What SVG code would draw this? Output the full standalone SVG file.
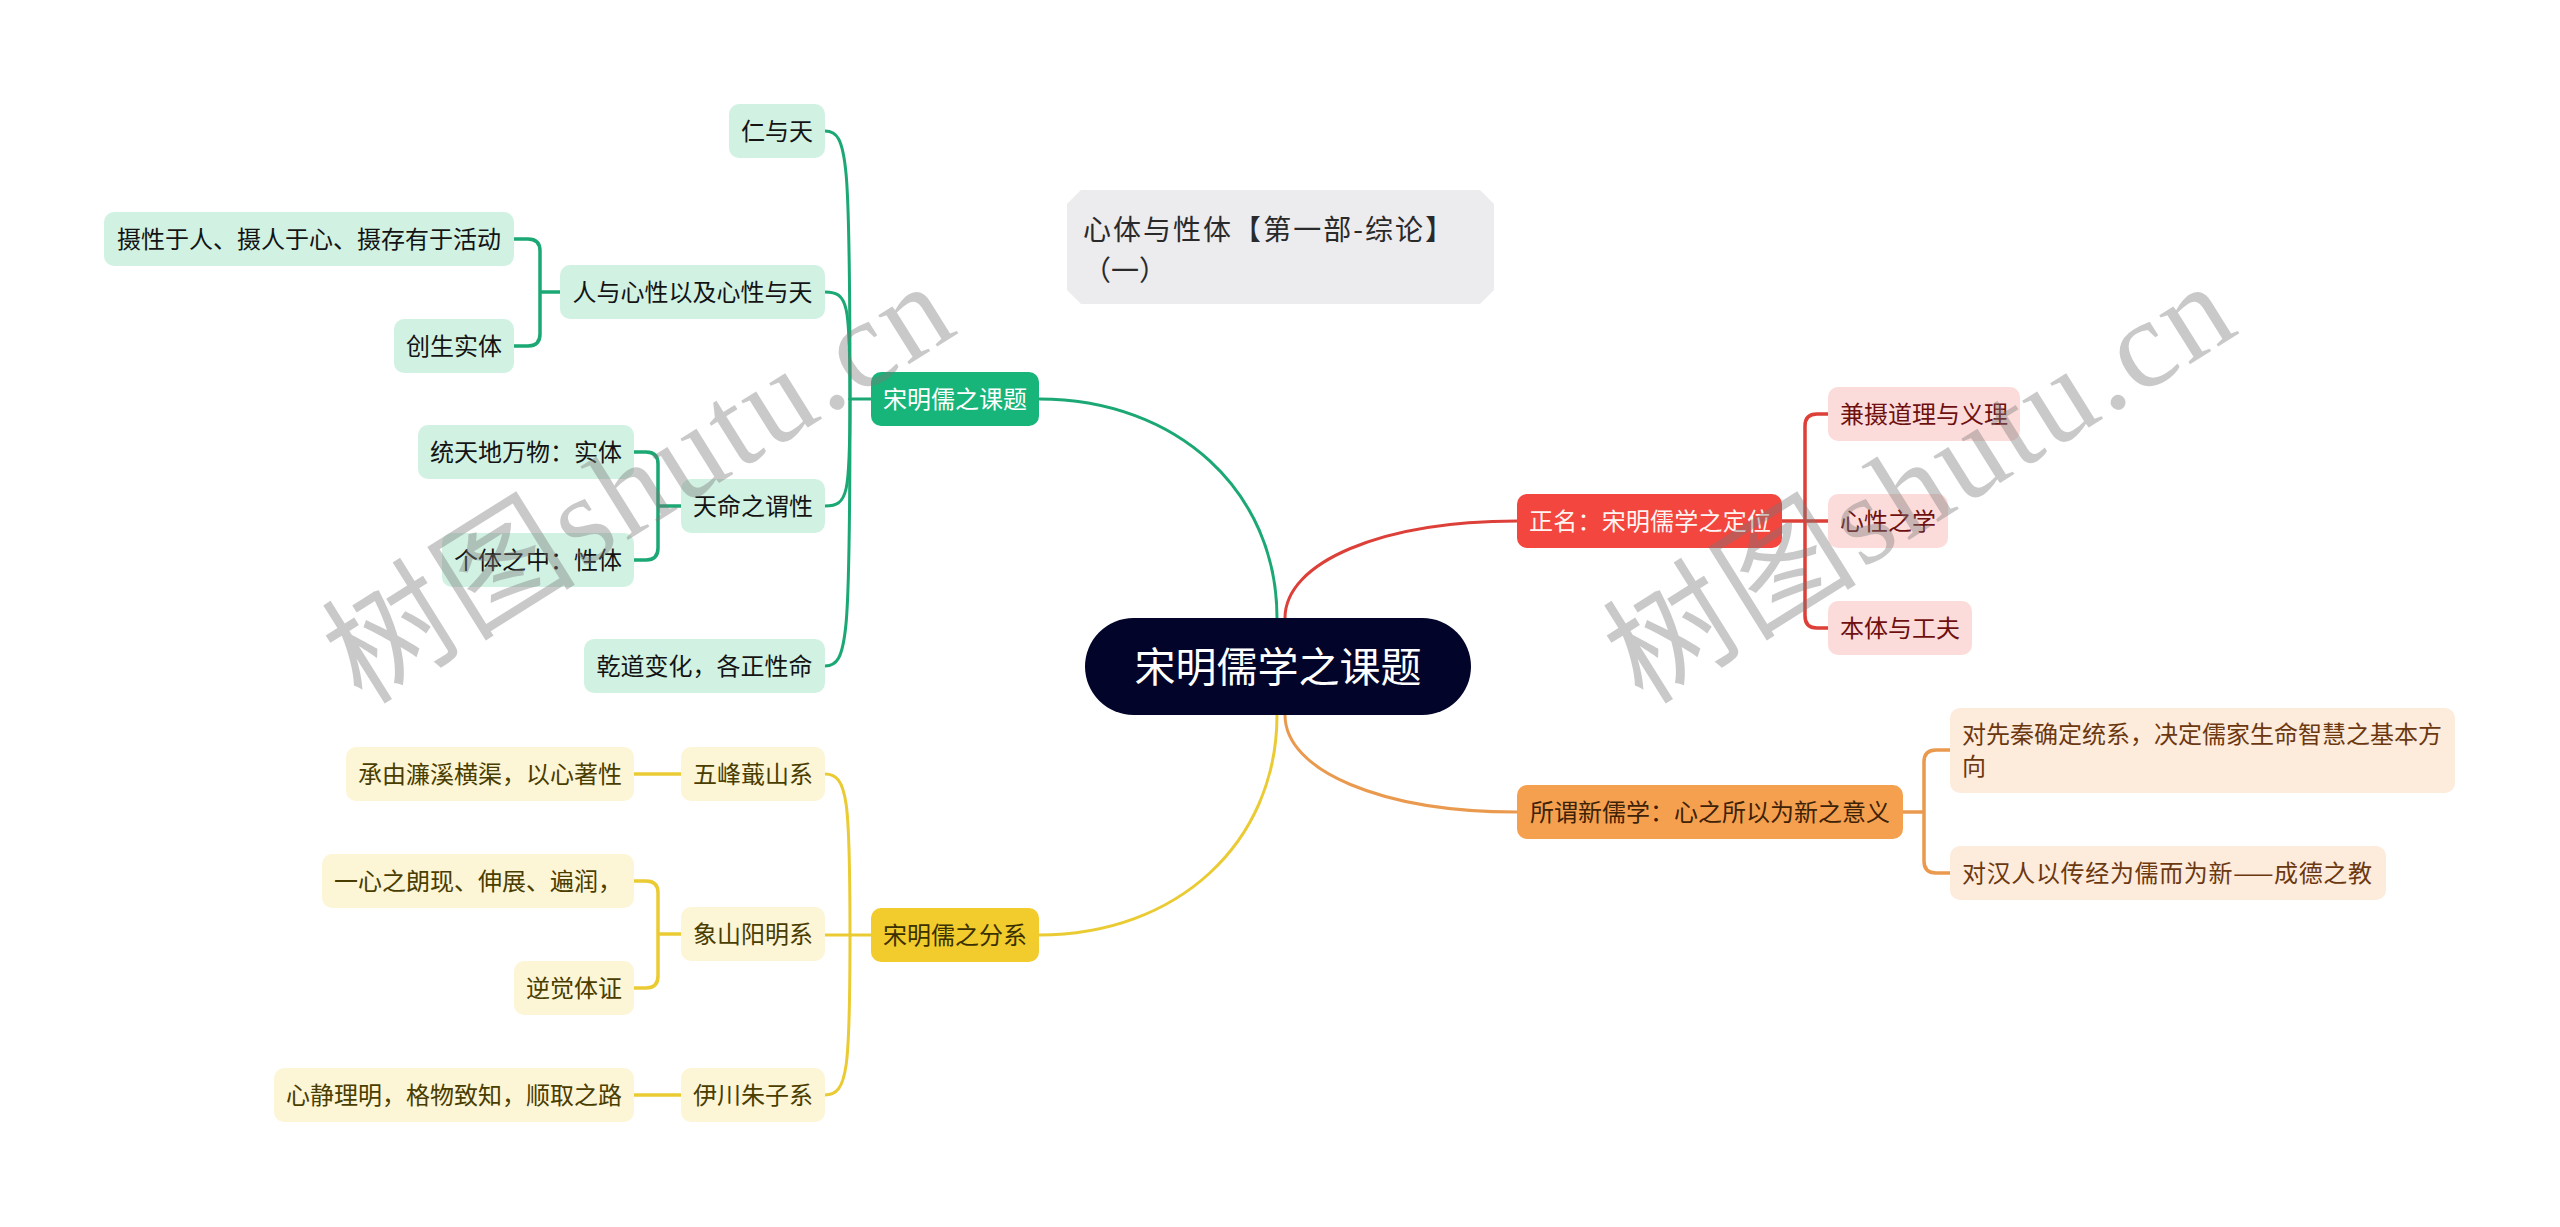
<svg xmlns="http://www.w3.org/2000/svg" width="2560" height="1227" viewBox="0 0 2560 1227">
<style>
text{font-family:"Noto Sans CJK SC","Liberation Sans",sans-serif;font-size:24px}
.m{text-anchor:middle}
.c{fill:none;stroke-width:3;stroke-linecap:round;stroke-linejoin:round}
.e{fill:none;stroke-width:3.5;stroke-linecap:butt;stroke-linejoin:round}
.g{stroke:#1BA874}.y{stroke:#EACB34}.r{stroke:#DC4038}.o{stroke:#EA9A4E}
.lg{fill:#D1F2E3}.ly{fill:#FCF5D6}.lr{fill:#FCDCDA}.lo{fill:#FDEBDC}
.tg{fill:#141414}.ty{fill:#4A3D00}.tr{fill:#6E1010}.to{fill:#6B3810}
.wm{font-family:"Liberation Serif","Noto Sans CJK SC",serif;font-size:126px;fill:#7a7a7a;opacity:0.4}
</style>
<rect width="2560" height="1227" fill="#FFFFFF"/>
<g id="connectors">
<path class="c g" d="M1039,399 C1177,399 1277,491 1277,618"/>
<path class="c r" d="M1285,618 C1285,562 1382,521 1517,521"/>
<path class="c y" d="M1039,935 C1177,935 1277,843 1277,715"/>
<path class="c o" d="M1285,715 C1285,771 1382,812 1517,812"/>
<path class="c g" d="M871,399 H850"/>
<path class="c g" d="M850,399 C850,158 848,131 825,131"/>
<path class="c g" d="M850,399 C850,303 848,292 825,292"/>
<path class="c g" d="M850,399 C850,495 848,506 825,506"/>
<path class="c g" d="M850,399 C850,639 848,666 825,666"/>
<path class="e g" d="M560,292 H540 M514,239 H528 Q540,239 540,251 V334 Q540,346 528,346 H514"/>
<path class="e g" d="M681,506 H658 M634,452 H646 Q658,452 658,464 V548 Q658,560 646,560 H634"/>
<path class="c y" d="M871,935 H850"/>
<path class="c y" d="M850,935 C850,801 848,774 825,774"/>
<path class="c y" d="M850,935 H825"/>
<path class="c y" d="M850,935 C850,1068 848,1095 825,1095"/>
<path class="e y" d="M681,774 H634"/>
<path class="e y" d="M681,934 H658 M634,881 H646 Q658,881 658,893 V976 Q658,988 646,988 H634"/>
<path class="e y" d="M681,1095 H634"/>
<path class="e r" d="M1782,521 H1828 M1828,414 H1817 Q1805,414 1805,426 V616 Q1805,628 1817,628 H1828"/>
<path class="e o" d="M1903,812 H1924 M1950,750 H1936 Q1924,750 1924,762 V861 Q1924,873 1936,873 H1950"/>
</g>
<g id="title">
<polygon points="1081,190 1480,190 1494,204 1494,290 1480,304 1081,304 1067,290 1067,204" fill="#ECEBEE"/>
<text x="1083" y="240" fill="#2A2A2A" style="font-size:28px" textLength="370" lengthAdjust="spacing">心体与性体【第一部-综论】</text>
<text x="1083" y="281" fill="#2A2A2A" style="font-size:28px">（一）</text>
</g>
<g id="central">
<rect x="1085" y="618" width="386" height="97" rx="48.5" fill="#02042A"/>
<text class="m" x="1278" y="682" fill="#FFFFFF" style="font-size:41px">宋明儒学之课题</text>
</g>
<g id="b1">
<rect x="871" y="372" width="168" height="54" rx="10" fill="#18B57A"/>
<text class="m" x="955" y="408" fill="#FFFFFF">宋明儒之课题</text>
</g>
<g id="b1c1"><rect class="lg" x="729" y="104" width="96" height="54" rx="10"/><text class="m tg" x="777" y="140">仁与天</text></g>
<g id="b1c2"><rect class="lg" x="560" y="265" width="265" height="54" rx="10"/><text class="m tg" x="692.5" y="301">人与心性以及心性与天</text></g>
<g id="b1c2a"><rect class="lg" x="104" y="212" width="410" height="54" rx="10"/><text class="m tg" x="309" y="248">摄性于人、摄人于心、摄存有于活动</text></g>
<g id="b1c2b"><rect class="lg" x="394" y="319" width="120" height="54" rx="10"/><text class="m tg" x="454" y="355">创生实体</text></g>
<g id="b1c3"><rect class="lg" x="681" y="479" width="144" height="54" rx="10"/><text class="m tg" x="753" y="515">天命之谓性</text></g>
<g id="b1c3a"><rect class="lg" x="418" y="425" width="216" height="54" rx="10"/><text class="m tg" x="526" y="461">统天地万物：实体</text></g>
<g id="b1c3b"><rect class="lg" x="442" y="533" width="192" height="54" rx="10"/><text class="m tg" x="538" y="569">个体之中：性体</text></g>
<g id="b1c4"><rect class="lg" x="584" y="639" width="241" height="54" rx="10"/><text class="m tg" x="704.5" y="675">乾道变化，各正性命</text></g>
<g id="b2">
<rect x="871" y="908" width="168" height="54" rx="10" fill="#F2CC2C"/>
<text class="m" x="955" y="944" fill="#3A3000">宋明儒之分系</text>
</g>
<g id="b2c1"><rect class="ly" x="681" y="747" width="144" height="54" rx="10"/><text class="m ty" x="753" y="783">五峰蕺山系</text></g>
<g id="b2c1a"><rect class="ly" x="346" y="747" width="288" height="54" rx="10"/><text class="m ty" x="490" y="783">承由濂溪横渠，以心著性</text></g>
<g id="b2c2"><rect class="ly" x="681" y="907" width="144" height="54" rx="10"/><text class="m ty" x="753" y="943">象山阳明系</text></g>
<g id="b2c2a"><rect class="ly" x="322" y="854" width="312" height="54" rx="10"/><text class="m ty" x="478" y="890">一心之朗现、伸展、遍润，</text></g>
<g id="b2c2b"><rect class="ly" x="514" y="961" width="120" height="54" rx="10"/><text class="m ty" x="574" y="997">逆觉体证</text></g>
<g id="b2c3"><rect class="ly" x="681" y="1068" width="144" height="54" rx="10"/><text class="m ty" x="753" y="1104">伊川朱子系</text></g>
<g id="b2c3a"><rect class="ly" x="274" y="1068" width="360" height="54" rx="10"/><text class="m ty" x="454" y="1104">心静理明，格物致知，顺取之路</text></g>
<g id="b3">
<rect x="1517" y="494" width="265" height="54" rx="10" fill="#F2463E"/>
<text x="1529" y="530" fill="#FFF4F2" textLength="242" lengthAdjust="spacing">正名：宋明儒学之定位</text>
</g>
<g id="b3c1"><rect class="lr" x="1828" y="387" width="192" height="54" rx="10"/><text class="m tr" x="1924" y="423">兼摄道理与义理</text></g>
<g id="b3c2"><rect class="lr" x="1828" y="494" width="120" height="54" rx="10"/><text class="m tr" x="1888" y="530">心性之学</text></g>
<g id="b3c3"><rect class="lr" x="1828" y="601" width="144" height="54" rx="10"/><text class="m tr" x="1900" y="637">本体与工夫</text></g>
<g id="b4">
<rect x="1517" y="785" width="386" height="54" rx="10" fill="#F5A04F"/>
<text class="m" x="1710" y="821" fill="#3D2208">所谓新儒学：心之所以为新之意义</text>
</g>
<g id="b4c1"><rect class="lo" x="1950" y="708" width="505" height="85" rx="10"/><text class="to" x="1962" y="743">对先秦确定统系，决定儒家生命智慧之基本方</text><text class="to" x="1962" y="775">向</text></g>
<g id="b4c2"><rect class="lo" x="1950" y="846" width="436" height="54" rx="10"/><text class="to" x="1962" y="882" textLength="410" lengthAdjust="spacing">对汉人以传经为儒而为新——成德之教</text></g>
<g id="watermarks">
<text class="wm" transform="translate(362,706) rotate(-32)" textLength="705" lengthAdjust="spacing">树图shutu.cn</text>
<text class="wm" transform="translate(1643,706) rotate(-32)" textLength="705" lengthAdjust="spacing">树图shutu.cn</text>
</g>
</svg>
